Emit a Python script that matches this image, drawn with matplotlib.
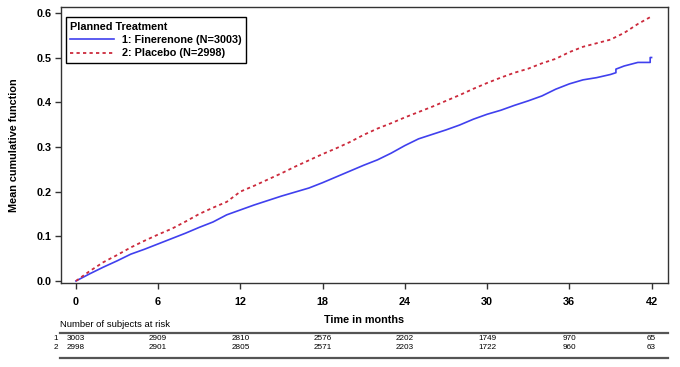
import matplotlib
matplotlib.use("Agg")
import matplotlib.pyplot as plt
from matplotlib.lines import Line2D
from matplotlib import transforms

plt.rcParams['font.family'] = ['Liberation Sans', 'DejaVu Sans']

# ---- data ----
fin_t = [0, 1, 2, 3, 4, 5, 6, 7, 8, 9, 10, 11, 12, 13, 14, 15, 16, 17, 18, 19, 20,
         21, 22, 23, 24, 25, 26, 27, 28, 29, 30, 31, 32, 33, 34, 35, 36, 37, 38, 39,
         39.4, 39.4, 40, 41, 41.9, 41.9, 42]
fin_v = [0, 0.016, 0.031, 0.045, 0.060, 0.071, 0.083, 0.095, 0.107, 0.120, 0.132,
         0.148, 0.159, 0.170, 0.180, 0.190, 0.199, 0.208, 0.220, 0.233, 0.246,
         0.259, 0.271, 0.286, 0.303, 0.318, 0.328, 0.338, 0.349, 0.362, 0.373,
         0.382, 0.393, 0.403, 0.414, 0.429, 0.441, 0.450, 0.455, 0.462,
         0.466, 0.474, 0.481, 0.489, 0.489, 0.500, 0.500]

pla_t = [0, 1, 2, 3, 4, 5, 6, 7, 8, 9, 10, 11, 12, 13, 14, 15, 16, 17, 18, 19, 20,
         21, 22, 23, 24, 25, 26, 27, 28, 29, 30, 31, 32, 33, 34, 35, 36, 37, 38, 39,
         40, 41, 42]
pla_v = [0, 0.022, 0.042, 0.058, 0.075, 0.090, 0.104, 0.117, 0.133, 0.150, 0.164,
         0.177, 0.200, 0.213, 0.227, 0.241, 0.256, 0.270, 0.284, 0.297, 0.311,
         0.327, 0.341, 0.353, 0.366, 0.378, 0.390, 0.403, 0.416, 0.430, 0.443,
         0.455, 0.466, 0.475, 0.487, 0.497, 0.512, 0.524, 0.532, 0.540, 0.555,
         0.575, 0.592]

series_labels = ["1: Finerenone (N=3003)", "2: Placebo (N=2998)"]
x_ticks = [0, 6, 12, 18, 24, 30, 36, 42]
y_ticks = [0.0, 0.1, 0.2, 0.3, 0.4, 0.5, 0.6]
risk_fin = [3003, 2909, 2810, 2576, 2202, 1749, 970, 65]
risk_pla = [2998, 2901, 2805, 2571, 2203, 1722, 960, 63]

W, H = 680, 367
fig = plt.figure(figsize=(6.8, 3.67), dpi=100)
ax = fig.add_axes([61 / W, 1 - 283 / H, (668 - 61) / W, (283 - 7) / H])

ax.plot(fin_t, fin_v, color='#4040ee', lw=1.2, label=series_labels[0])
ax.plot(pla_t, pla_v, color='#cc2a3c', lw=1.3, linestyle=(0, (1.8, 1.8)),
        label=series_labels[1])

ax.set_xlim(-1.09, 43.2)
ax.set_ylim(-0.0045, 0.613)
ax.set_xticks(x_ticks)
ax.set_xticklabels([str(v) for v in x_ticks])
ax.set_yticks(y_ticks)
ax.set_yticklabels([f"{v:.1f}" for v in y_ticks])
ax.tick_params(axis='x', length=4, width=1, pad=6, labelsize=7.8, color='#333333')
ax.tick_params(axis='y', length=4, width=1, pad=3, labelsize=7.8, color='#333333')
for lab in ax.get_xticklabels() + ax.get_yticklabels():
    lab.set_fontweight('bold')
for s in ax.spines.values():
    s.set_color('#333333')
    s.set_linewidth(1.0)

ax.set_xlabel("Time in months", fontsize=7.8, fontweight='bold', labelpad=6)
ax.set_ylabel("Mean cumulative function", fontsize=7.8, fontweight='bold', labelpad=12)

leg = ax.legend(loc='upper left', bbox_to_anchor=(0.008, 0.962), title="Planned Treatment",
                fontsize=7.8, title_fontproperties={'weight': 'bold', 'size': 7.8},
                alignment='left', frameon=True, fancybox=False, edgecolor='black',
                framealpha=1, borderaxespad=0, handlelength=4.0, handletextpad=0.8,
                labelspacing=0.3, borderpad=0.4)
leg.get_frame().set_linewidth(1.0)
for t in leg.get_texts():
    t.set_fontweight('bold')

# ---- risk table ----
tr = transforms.blended_transform_factory(ax.transData, fig.transFigure)
fig.text(60 / W, 1 - 324.3 / H, "Number of subjects at risk", fontsize=6.8,
         ha='left', va='center')
for yp in (333, 357.5):
    fig.add_artist(Line2D([60 / W, 668 / W], [1 - yp / H, 1 - yp / H],
                          color='#555555', lw=1.6, transform=fig.transFigure))
narrow = ['Liberation Sans Narrow', 'Liberation Sans', 'DejaVu Sans']
for row, (vals, yp) in enumerate([(risk_fin, 339.0), (risk_pla, 347.6)]):
    fig.text(56 / W, 1 - yp / H, str(row + 1), fontsize=5.9, ha='center', va='center',
             family=narrow)
    for xt, v in zip(x_ticks, vals):
        ax.text(xt, 1 - yp / H, str(v), transform=tr, fontsize=5.9, ha='center',
                va='center', family=narrow)

fig.savefig("out.png", dpi=100)
